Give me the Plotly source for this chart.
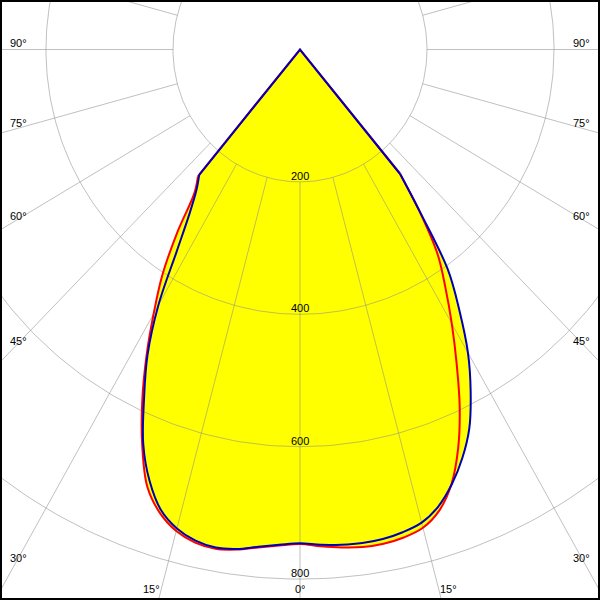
import numpy as np
import plotly.graph_objects as go

# Polar angles (degrees from nadir) at which intensities were read
ANGLES = [0, 2.5, 5, 7.5, 10, 12.5, 15, 17.5, 20, 22.5, 25, 27.5, 30,
          32.5, 35, 37.5, 40, 42.5]

# Luminous intensity (cd/klm) - red curve: C0 (right) / C180 (left)
RED_C0 = [747, 751, 755, 758, 758, 755, 748, 730, 698, 651, 595, 534, 478,
          426, 378, 311, 245, 0]
RED_C180 = [747, 750, 755, 762, 766, 763, 753, 734, 703, 649, 588, 524, 461,
            403, 336, 273, 250, 0]
# blue curve: C90 (right) / C270 (left)
BLUE_C90 = [746, 749, 751, 752, 751, 747, 740, 724, 699, 668, 631, 582, 529,
            467, 406, 313, 245, 0]
BLUE_C270 = [746, 749, 754, 761, 764, 760, 749, 729, 693, 645, 581, 520, 446,
             361, 304, 268, 247, 0]

RING_VALUES = [200, 400, 600, 800]
RING_LABELS = ["200", "400", "600", "800"]
SIDE_ANGLES = [90, 75, 60, 45, 30]
BOTTOM_ANGLES = [-15, 0, 15]

# axis scaling (cd per screen extent)
X_HALF = 472.4
Y_TOP = 74.8
Y_BOTTOM = -831.6


def curve_xy(right, left):
    a = np.array(ANGLES, dtype=float)
    th = np.concatenate([-a[::-1], a[1:]])
    r = np.concatenate([np.array(left, float)[::-1], np.array(right, float)[1:]])
    rad = np.deg2rad(th)
    return r * np.sin(rad), -r * np.cos(rad)


fig = go.Figure()

curves = [curve_xy(RED_C0, RED_C180), curve_xy(BLUE_C90, BLUE_C270)]
colors = ["#ff0000", "#0000b8"]

# yellow fill: polygon + smooth body
for xs, ys in curves:
    fig.add_trace(go.Scatter(x=xs, y=ys, mode="lines", fill="toself",
                             fillcolor="#ffff00", line=dict(width=0),
                             hoverinfo="skip"))
    fig.add_trace(go.Scatter(x=xs[1:-1], y=ys[1:-1], mode="lines", fill="toself",
                             fillcolor="#ffff00",
                             line=dict(width=0, shape="spline", smoothing=1),
                             hoverinfo="skip"))

# grid
gx, gy = [], []
t = np.deg2rad(np.arange(0, 361, 1))
for rv in RING_VALUES:
    gx += list(rv * np.sin(t)) + [None]
    gy += list(-rv * np.cos(t)) + [None]
inner = RING_VALUES[0]
outer = 1200
for a in range(0, 360, 15):
    ar = np.deg2rad(a)
    gx += [inner * np.sin(ar), outer * np.sin(ar), None]
    gy += [-inner * np.cos(ar), -outer * np.cos(ar), None]
fig.add_trace(go.Scatter(x=gx, y=gy, mode="lines",
                         line=dict(color="rgba(140,140,140,0.55)", width=1),
                         hoverinfo="skip"))

for (xs, ys), col in zip(curves, colors):
    # body (smooth)
    fig.add_trace(go.Scatter(x=xs[1:-1], y=ys[1:-1], mode="lines",
                             line=dict(color=col, width=2, shape="spline",
                                       smoothing=1), hoverinfo="skip"))
    # cut-off rays to the centre
    fig.add_trace(go.Scatter(x=[xs[1], xs[0], xs[-2]], y=[ys[1], ys[0], ys[-2]],
                             mode="lines", line=dict(color=col, width=2),
                             hoverinfo="skip"))

font = dict(family="Liberation Sans, Arial, sans-serif", size=11, color="black")
ann = []
for rv, lab in zip(RING_VALUES, RING_LABELS):
    ann.append(dict(x=0, y=-rv, text=lab, showarrow=False, xanchor="center",
                    yanchor="middle", yshift=6, font=font, borderpad=0))

XL = 443.5
for a in SIDE_ANGLES:
    ar = np.deg2rad(a)
    yv = -XL * np.cos(ar) / np.sin(ar)
    shift = 7 * (a - 30) / 60
    for sgn in (-1, 1):
        ann.append(dict(x=sgn * XL, y=yv, text=f"{a}°", showarrow=False,
                        xanchor="center", yanchor="middle", yshift=shift,
                        font=font, borderpad=0))

YB = -815
for a in BOTTOM_ANGLES:
    xv = -YB * np.tan(np.deg2rad(a))
    anchor = "center" if a == 0 else ("right" if a < 0 else "left")
    ann.append(dict(x=xv, y=YB, text=f"{abs(a)}°", showarrow=False,
                    xanchor=anchor, yanchor="middle", font=font, borderpad=0))

fig.update_layout(
    width=600, height=600,
    margin=dict(l=0, r=0, t=0, b=0),
    paper_bgcolor="white", plot_bgcolor="white",
    showlegend=False,
    xaxis=dict(range=[-X_HALF, X_HALF], visible=False, fixedrange=True),
    yaxis=dict(range=[Y_BOTTOM, Y_TOP], visible=False, fixedrange=True),
    annotations=ann,
    shapes=[dict(type="rect", xref="paper", yref="paper", x0=0, y0=0, x1=1, y1=1,
                 line=dict(color="black", width=4))],
)

fig.write_html("out.html", config={"displayModeBar": False},
               post_script="document.body.style.margin='0px';"
                           "document.body.style.overflow='hidden';")
